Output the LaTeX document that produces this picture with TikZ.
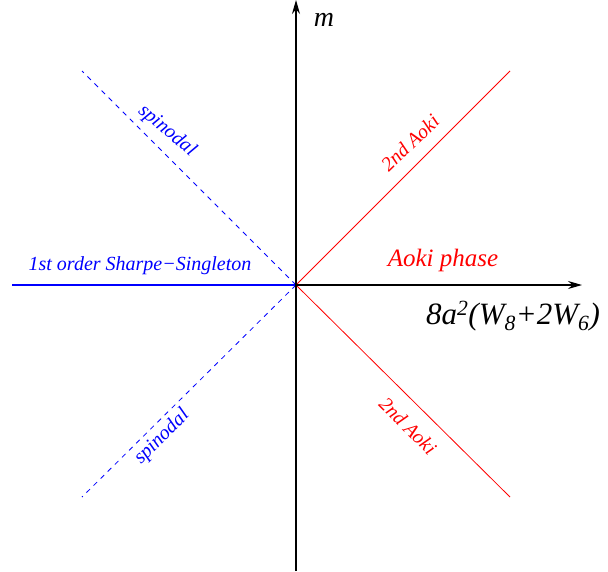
\documentclass[tikz,border=0pt]{standalone}
\usepackage{fontspec}
\setmainfont{Liberation Serif}
\usetikzlibrary{arrows.meta}
\begin{document}
\begin{tikzpicture}[x=1pt,y=-1pt,
  axis/.style={black,line width=1.2pt,-{Stealth[length=14pt,width=8pt]}},
  redline/.style={red,line width=0.8pt},
  bluedash/.style={blue,line width=0.8pt,dash pattern=on 5pt off 5pt},
  lab/.style={inner sep=0pt,font=\itshape}]
\useasboundingbox (0,0) rectangle (608,571);
\coordinate (O) at (296,285);
\coordinate (ytop) at (296,0);
\coordinate (ybot) at (296,571);
\coordinate (xend) at (582,285);
\coordinate (bleft) at (12,285);
\coordinate (ur) at (510,71);
\coordinate (lr) at (510,497);
\coordinate (ul) at (82,71);
\coordinate (ll) at (82,497);
\draw[bluedash] (O) -- (ul);
\draw[bluedash] (O) -- (ll);
\draw[redline] (O) -- (ur);
\draw[redline] (O) -- (lr);
\draw[blue,line width=2.4pt] (bleft) -- (O);
\draw[axis] (ybot) -- (ytop);
\draw[axis] (O) -- (xend);
\node[lab,font=\itshape\fontsize{28}{30}\selectfont] (m) at (324,20) {m};
\node[lab,red,font=\itshape\fontsize{25}{27}\selectfont] (aoki) at (443,260) {Aoki phase};
\node[lab,font=\itshape\fontsize{31}{33}\selectfont] (xl) at (513,316) {8a\textsuperscript{2}(W\textsubscript{8}+2W\textsubscript{6})};
\node[lab,blue,font=\itshape\fontsize{20}{22}\selectfont] (ss) at (140,266) {1st order Sharpe−Singleton};
\node[lab,blue,rotate=-40,font=\itshape\fontsize{20}{22}\selectfont] (sp1) at (167,131) {spinodal};
\node[lab,blue,rotate=45,font=\itshape\fontsize{20}{22}\selectfont] (sp2) at (162,437) {spinodal};
\node[lab,red,rotate=44,font=\itshape\fontsize{20}{22}\selectfont] (a1) at (410,143) {2nd Aoki};
\node[lab,red,rotate=-45,font=\itshape\fontsize{20}{22}\selectfont] (a2) at (408,426) {2nd Aoki};
\end{tikzpicture}
\end{document}
